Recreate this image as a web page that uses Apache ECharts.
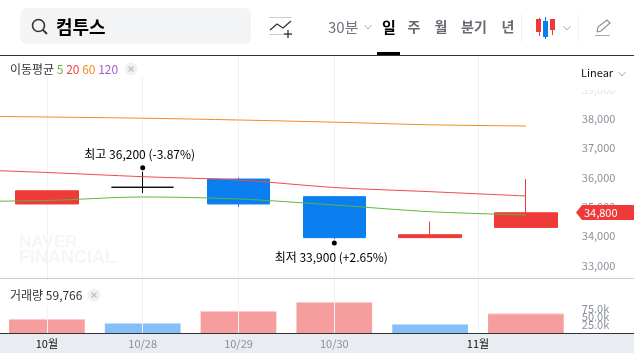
<!DOCTYPE html>
<html>
<head>
<meta charset="utf-8">
<script src="https://cdn.jsdelivr.net/npm/echarts@6/dist/echarts.min.js"></script>
<style>
html, body { margin: 0; padding: 0; background: #fff; overflow: hidden; }
#chart { width: 634px; height: 353px; }
</style>
</head>
<body>
<div id="chart"></div>
<script>
const FONT = '"Noto Sans CJK KR", "Liberation Sans", sans-serif';

// 첫 칸은 화면 밖 (이동평균선이 왼쪽 끝까지 이어지도록)
const categories = ['', '10/27', '10/28', '10/29', '10/30', '10/31', '11/03'];
// open, close, low, high
const candles = [
    [null, null, null, null],
    [35100, 35550, 35100, 35550],
    [35670, 35670, 35475, 36200],
    [35950, 35100, 35000, 36000],
    [35350, 33950, 33900, 35350],
    [33950, 34050, 33950, 34500],
    [34300, 34800, 34300, 35950]
];
const ma5 = [35184, 35218, 35338, 35270, 35065, 34836, 34724];
const ma20 = [36293, 36174, 36031, 35918, 35662, 35519, 35372];
const ma60 = [38102, 38068, 38027, 37966, 37891, 37802, 37761];
const volumes = [null, 42700, 30500, 67000, 94500, 27400, 59766];
const volumeUp = [true, true, false, true, true, false, true];

const priceTicks = [33000, 34000, 35000, 36000, 37000, 38000, 39000];
const volumeTicks = [25000, 50000, 75000];
const dateTicks = [1, 2, 3, 4, 5.5];
const dateLabels = ['10월', '10/28', '10/29', '10/30', '11월'];

const VOLUME_MAX = 164600;
const RED = '#f03a3a';
const BLUE = '#0b7ff0';
const GRID_LINE = '#f0f2f5';
const AXIS_TEXT = '#8b919b';

const chart = echarts.init(document.getElementById('chart'), null, { renderer: 'canvas' });

function txt(x, y, text, size, fill, extra) {
    return {
        type: 'text', x: x, y: y, z: 20,
        style: Object.assign({
            text: text, fontSize: size, fill: fill, fontFamily: FONT,
            verticalAlign: 'middle', align: 'left'
        }, extra || {})
    };
}

function line(x1, y1, x2, y2, stroke, width, z) {
    return {
        type: 'line', z: z || 20,
        shape: { x1: x1, y1: y1, x2: x2, y2: y2 },
        style: { stroke: stroke, lineWidth: width || 1 }
    };
}

function chevron(x, y) {
    return {
        type: 'polyline', z: 20,
        shape: { points: [[x - 3.5, y - 2], [x, y + 2], [x + 3.5, y - 2]] },
        style: { stroke: '#a9adb3', lineWidth: 1, fill: null }
    };
}

function closeBadge(x, y) {
    return [
        { type: 'circle', z: 20, shape: { cx: x, cy: y, r: 6.5 }, style: { fill: '#f1f1f2' } },
        line(x - 2.5, y - 2.5, x + 2.5, y + 2.5, '#bdbfc3', 1.3, 21),
        line(x - 2.5, y + 2.5, x + 2.5, y - 2.5, '#bdbfc3', 1.3, 21)
    ];
}

function rect(x, y, w, h, fill, r, z) {
    return {
        type: 'rect', z: z === undefined ? 20 : z,
        shape: { x: x, y: y, width: w, height: h, r: r || 0 },
        style: { fill: fill }
    };
}

// 상단 툴바, 범례, 구분선
function chromeGraphics() {
    const g = [];
    // 검색창
    g.push(rect(20, 8, 231, 36, '#f3f4f6', 7));
    g.push({ type: 'circle', z: 21, shape: { cx: 38.5, cy: 25.5, r: 6 }, style: { fill: null, stroke: '#333', lineWidth: 1.6 } });
    g.push(line(43, 30, 47, 34, '#333', 1.8, 21));
    g.push(txt(56, 27, '컴투스', 18, '#000', { fontWeight: 'bold' }));
    // 비교 아이콘
    g.push(line(269, 17.5, 292, 17.5, '#c9ccd1'));
    g.push(line(269, 34.5, 292, 34.5, '#c9ccd1'));
    g.push({ type: 'polyline', z: 20, shape: { points: [[270, 30], [277, 24], [283, 28], [291, 21]] }, style: { stroke: '#333', lineWidth: 1.3, fill: null } });
    g.push(line(288, 30, 288, 38, '#333', 1.3));
    g.push(line(284, 34, 292, 34, '#333', 1.3));
    // 기간 메뉴
    g.push(txt(328, 27, '30분', 15, '#70757d'));
    g.push(chevron(368, 27));
    g.push(txt(389, 27, '일', 15, '#000', { fontWeight: 'bold', align: 'center' }));
    g.push(txt(414, 27, '주', 14, '#666b73', { fontWeight: 'bold', align: 'center' }));
    g.push(txt(441, 27, '월', 14, '#666b73', { fontWeight: 'bold', align: 'center' }));
    g.push(txt(474, 27, '분기', 14, '#666b73', { fontWeight: 'bold', align: 'center' }));
    g.push(txt(508, 27, '년', 14, '#666b73', { fontWeight: 'bold', align: 'center' }));
    g.push(line(521.5, 14, 521.5, 42, '#f0f1f3'));
    // 캔들 아이콘
    g.push(line(539.5, 18, 539.5, 36, RED));
    g.push(rect(536, 19, 5, 13, RED));
    g.push(line(545.5, 17, 545.5, 39, BLUE));
    g.push(rect(543, 21, 5, 16, BLUE));
    g.push(line(552.5, 19, 552.5, 35, RED));
    g.push(rect(550, 19, 5, 11, RED));
    g.push(chevron(567, 28));
    g.push(line(578.5, 14, 578.5, 42, '#f0f1f3'));
    // 연필 아이콘
    g.push({ type: 'polyline', z: 20, shape: { points: [[597, 32], [598, 27], [607, 20], [610, 23], [601, 31], [597, 32]] }, style: { stroke: '#8b8f96', lineWidth: 1.2, fill: null } });
    g.push(line(595, 35.5, 610, 35.5, '#a9adb3'));
    // 상단 구분선
    g.push(line(0, 55.5, 634, 55.5, '#333'));
    g.push(rect(377, 52, 23, 3, '#000'));
    // 패널 구분선
    g.push(line(0, 278.5, 634, 278.5, '#c9ced6'));
    // 워터마크
    g.push(Object.assign(txt(19, 242, 'NAVER', 17, '#f5f6f8', { fontWeight: 'bold', fontFamily: '"Liberation Sans", sans-serif' }), { z: 1 }));
    g.push(Object.assign(txt(19, 258, 'FINANCIAL', 18, '#f5f6f8', { fontWeight: 'bold', fontFamily: '"Liberation Sans", sans-serif' }), { z: 1 }));
    // 이동평균 범례
    g.push(rect(0, 56, 150, 20, '#fff', 0, 15));
    g.push(txt(10, 69, '{a|이동평균} {g|5} {r|20} {o|60} {p|120}', 12, '#333', {
        rich: {
            a: { fontSize: 12, fill: '#333', fontFamily: FONT },
            g: { fontSize: 12, fill: '#5cb83c', fontFamily: FONT },
            r: { fontSize: 12, fill: '#ef4444', fontFamily: FONT },
            o: { fontSize: 12, fill: '#f58a1f', fontFamily: FONT },
            p: { fontSize: 12, fill: '#a25fd0', fontFamily: FONT }
        }
    }));
    g.push.apply(g, closeBadge(131, 69));
    // 거래량 범례
    g.push(rect(0, 280, 110, 26, '#fff', 0, 15));
    g.push(txt(10, 295, '거래량 59,766', 12, '#333'));
    g.push.apply(g, closeBadge(94, 295));
    // Linear 선택
    g.push(rect(575, 60, 59, 30, '#fff', 0, 15));
    g.push(rect(575, 90, 59, 6, 'rgba(255,255,255,0.75)', 0, 15));
    g.push(txt(581, 73, 'Linear', 11, '#111'));
    g.push(chevron(622, 74));
    // 하단 날짜 영역
    g.push(rect(0, 334, 634, 19, '#e9ecf1', 0, 0));
    g.push(line(0, 333.5, 634, 333.5, '#333', 1, 18));
    return g;
}

// 현재가 태그
function priceTagGraphics() {
    const last = candles[candles.length - 1][1];
    const y = Math.round(chart.convertToPixel({ yAxisIndex: 0 }, last));
    return [
        {
            type: 'polygon', z: 30,
            shape: { points: [[576, y - 0.5], [582, y - 8], [634, y - 8], [634, y + 7], [582, y + 7]] },
            style: { fill: RED }
        },
        {
            type: 'text', z: 31, x: 584, y: y,
            style: {
                text: echarts.format.addCommas(last), fill: '#fff', fontSize: 11,
                fontFamily: FONT, verticalAlign: 'middle'
            }
        }
    ];
}

function renderVolumeBar(params, api) {
    const x = api.value(0);
    const top = api.coord([x, api.value(1)]);
    const base = api.coord([x, 0]);
    const w = api.size([1, 0])[0] * 0.79;
    const up = volumeUp[x];
    return {
        type: 'group',
        children: [
            {
                type: 'rect',
                shape: { x: top[0] - w / 2, y: top[1], width: w, height: base[1] - top[1] },
                style: { fill: up ? 'rgba(237,60,60,0.5)' : 'rgba(11,127,240,0.5)' }
            },
            {
                type: 'rect',
                shape: { x: top[0] - w / 2, y: top[1], width: w, height: 1 },
                style: { fill: 'rgba(255,255,255,0.45)' }
            }
        ]
    };
}

function maSeries(name, values, color) {
    return {
        name: name, type: 'line', data: values, xAxisIndex: 0, yAxisIndex: 0,
        smooth: 0.3, symbol: 'none', silent: true,
        lineStyle: { color: color, width: 1 }, z: 5
    };
}

const option = {
    animation: false,
    textStyle: { fontFamily: FONT },
    grid: [
        { left: -96.8, top: 56, width: 670.6, height: 222, outerBoundsMode: 'none' },
        { left: -96.8, top: 279, width: 670.6, height: 54, outerBoundsMode: 'none' }
    ],
    xAxis: [
        { type: 'category', gridIndex: 0, data: categories, show: false },
        {
            type: 'value', gridIndex: 0, min: -0.5, max: 6.5,
            axisLine: { show: false }, axisLabel: { show: false },
            axisTick: { show: false, customValues: dateTicks },
            splitLine: { show: true, lineStyle: { color: GRID_LINE, width: 1 } }
        },
        { type: 'category', gridIndex: 1, data: categories, show: false },
        {
            type: 'value', gridIndex: 1, min: -0.5, max: 6.5, position: 'bottom', z: 10,
            axisLine: { show: false },
            axisTick: { show: false, customValues: dateTicks },
            splitLine: { show: true, lineStyle: { color: GRID_LINE, width: 1 } },
            axisLabel: {
                show: true, customValues: dateTicks, margin: 5, fontSize: 11, hideOverlap: false,
                formatter: function (v) {
                    const label = dateLabels[dateTicks.indexOf(v)];
                    return label.indexOf('월') >= 0 ? '{m|' + label + '}' : '{d|' + label + '}';
                },
                rich: {
                    m: { color: '#111', fontSize: 11, fontFamily: FONT },
                    d: { color: AXIS_TEXT, fontSize: 11, fontFamily: FONT }
                }
            }
        }
    ],
    yAxis: [
        {
            type: 'value', gridIndex: 0, position: 'right', min: 32573, max: 40150,
            axisLine: { show: true, lineStyle: { color: '#e6e9ee' } },
            axisTick: { show: true, length: 3, customValues: priceTicks, lineStyle: { color: '#e6e9ee' } },
            splitLine: { show: false },
            axisLabel: {
                customValues: priceTicks, margin: 8, fontSize: 11, color: AXIS_TEXT, hideOverlap: false,
                formatter: function (v) { return echarts.format.addCommas(v); }
            }
        },
        {
            type: 'value', gridIndex: 1, position: 'right', min: 0, max: VOLUME_MAX,
            axisLine: { show: true, lineStyle: { color: '#e6e9ee' } },
            axisTick: { show: true, length: 3, customValues: volumeTicks, lineStyle: { color: '#e6e9ee' } },
            splitLine: { show: false },
            axisLabel: {
                // 양 끝 빈 라벨: 겹치는 첫/마지막 라벨이 숨겨지지 않게 함
                customValues: [0].concat(volumeTicks, [VOLUME_MAX]),
                margin: 8, fontSize: 11, color: AXIS_TEXT, hideOverlap: false,
                formatter: function (v) {
                    return volumeTicks.indexOf(v) >= 0 ? (v / 1000).toFixed(1) + 'k' : '';
                }
            }
        }
    ],
    series: [
        {
            name: '가격', type: 'candlestick', data: candles, xAxisIndex: 0, yAxisIndex: 0,
            barWidth: 63, z: 3, silent: true,
            itemStyle: {
                color: RED, color0: BLUE, borderColor: RED, borderColor0: BLUE,
                borderColorDoji: '#000', borderWidth: 1
            },
            markPoint: {
                symbol: 'circle', symbolSize: 5, silent: true,
                itemStyle: { color: '#000' },
                data: [
                    {
                        coord: [2, 36200], symbolOffset: [0, -4],
                        label: { show: true, position: 'top', distance: 5, offset: [-3, 0], color: '#000', fontSize: 12, fontFamily: FONT, formatter: '최고 36,200 (-3.87%)' }
                    },
                    {
                        coord: [4, 33900], symbolOffset: [0, 4],
                        label: { show: true, position: 'bottom', distance: 6, offset: [-3, 0], color: '#000', fontSize: 12, fontFamily: FONT, formatter: '최저 33,900 (+2.65%)' }
                    }
                ]
            }
        },
        maSeries('5', ma5, '#5cb83c'),
        maSeries('20', ma20, '#ef4b4b'),
        maSeries('60', ma60, '#f58a1f'),
        {
            name: '거래량', type: 'custom', xAxisIndex: 2, yAxisIndex: 1, silent: true, z: 3,
            renderItem: renderVolumeBar,
            encode: { x: 0, y: 1 },
            data: volumes.map(function (v, i) { return [i, v]; }).filter(function (d) { return d[1] !== null; })
        }
    ],
    graphic: chromeGraphics()
};

chart.setOption(option);
chart.setOption({ graphic: chromeGraphics().concat(priceTagGraphics()) });
</script>
</body>
</html>
